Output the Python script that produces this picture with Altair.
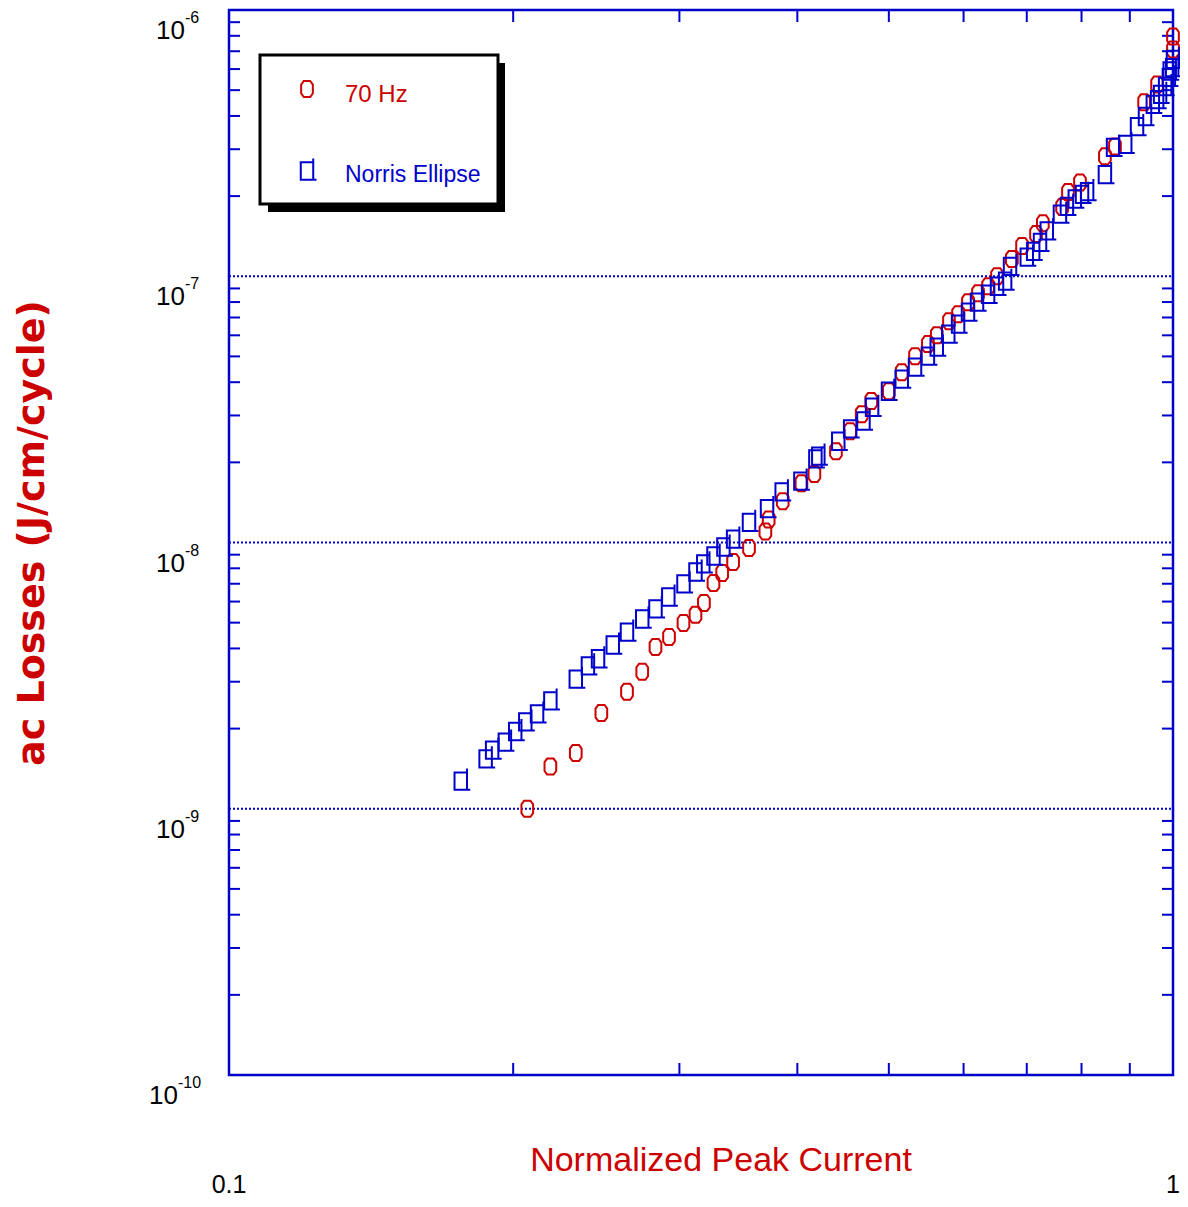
import altair as alt
import pandas as pd

# ---- data ----
red_x = [0.207, 0.219, 0.233, 0.248, 0.264, 0.274, 0.283, 0.2925, 0.303, 0.312,
         0.3185, 0.326, 0.333, 0.342, 0.3555, 0.370, 0.373, 0.386, 0.404, 0.417,
         0.4395, 0.455, 0.468, 0.479, 0.500, 0.516, 0.533, 0.550, 0.562, 0.579,
         0.592, 0.6065, 0.6215, 0.637, 0.651, 0.675, 0.692, 0.716, 0.728, 0.763,
         0.774, 0.797, 0.847, 0.868, 0.932, 0.962, 1.0, 1.0]
red_y = [1.00e-9, 1.44e-9, 1.62e-9, 2.29e-9, 2.75e-9, 3.27e-9, 4.05e-9, 4.42e-9, 4.99e-9, 5.35e-9,
         5.93e-9, 7.05e-9, 7.68e-9, 8.45e-9, 9.54e-9, 1.10e-8, 1.22e-8, 1.43e-8, 1.67e-8, 1.81e-8,
         2.20e-8, 2.62e-8, 3.03e-8, 3.40e-8, 3.70e-8, 4.36e-8, 5.01e-8, 5.56e-8, 6.00e-8, 6.78e-8,
         7.20e-8, 7.99e-8, 8.63e-8, 9.17e-8, 1.00e-7, 1.16e-7, 1.30e-7, 1.44e-7, 1.58e-7, 1.82e-7,
         2.07e-7, 2.25e-7, 2.82e-7, 3.07e-7, 4.50e-7, 5.25e-7, 7.11e-7, 7.95e-7]

blue_x = [0.176, 0.187, 0.190, 0.196, 0.201, 0.206, 0.212, 0.219, 0.233, 0.240,
          0.246, 0.255, 0.264, 0.274, 0.283, 0.292, 0.303, 0.312, 0.318, 0.326,
          0.334, 0.342, 0.3555, 0.3715, 0.385, 0.403, 0.418, 0.421, 0.442, 0.455,
          0.470, 0.480, 0.499, 0.516, 0.533, 0.550, 0.562, 0.578, 0.592, 0.6065,
          0.620, 0.637, 0.651, 0.664, 0.672, 0.700, 0.711, 0.723, 0.735, 0.759,
          0.772, 0.787, 0.801, 0.811, 0.847, 0.864, 0.890, 0.916, 0.934, 0.952,
          0.962, 0.969, 0.981, 0.990, 0.992, 0.998, 1.0]
blue_y = [1.27e-9, 1.54e-9, 1.66e-9, 1.78e-9, 1.95e-9, 2.12e-9, 2.27e-9, 2.54e-9, 3.07e-9, 3.44e-9,
          3.66e-9, 4.12e-9, 4.61e-9, 5.16e-9, 5.63e-9, 6.24e-9, 6.99e-9, 7.75e-9, 8.31e-9, 8.90e-9,
          9.62e-9, 1.03e-8, 1.19e-8, 1.34e-8, 1.55e-8, 1.70e-8, 2.06e-8, 2.11e-8, 2.40e-8, 2.67e-8,
          2.86e-8, 3.22e-8, 3.70e-8, 4.11e-8, 4.56e-8, 5.01e-8, 5.42e-8, 6.06e-8, 6.61e-8, 7.33e-8,
          7.99e-8, 8.56e-8, 9.17e-8, 9.58e-8, 1.09e-7, 1.18e-7, 1.24e-7, 1.34e-7, 1.48e-7, 1.71e-7,
          1.83e-7, 1.95e-7, 2.03e-7, 2.08e-7, 2.41e-7, 3.05e-7, 3.13e-7, 3.65e-7, 3.98e-7, 4.42e-7,
          4.61e-7, 4.82e-7, 5.16e-7, 5.58e-7, 5.90e-7, 6.08e-7, 6.52e-7]

series_names = ["70 Hz", "Norris Ellipse"]
x_title = "Normalized Peak Current"
y_title = "ac Losses (J/cm/cycle)"
x_tick_labels = ["0.1", "1"]
x_label_values = [0.1, 1.0]
y_label_exps = [-6, -7, -8, -9, -10]
x_minor = [0.2, 0.3, 0.4, 0.5, 0.6, 0.7, 0.8, 0.9]
y_minor = [k * 10.0 ** e for e in [-10, -9, -8, -7] for k in range(2, 10)]
y_grid = [1e-9, 1e-8, 1e-7]

# ---- styling ----
W, H = 944, 1065
RED = "#cc0000"
BLUE = "#0000cc"
SANS = "Liberation Sans, Arial, sans-serif"
RED_SHAPE = "M-0.4,-1L0.4,-1L0.73,-0.55L0.73,0.55L0.4,1L-0.4,1L-0.73,0.55L-0.73,-0.55Z"
BLUE_SHAPE = "M-0.72,-1L0.72,-1L0.72,1L-0.72,1Z M0.72,-1L0.72,-1.45 M0.72,1L1.1,1"

xs = alt.Scale(type="log", domain=[0.1, 1.0], nice=False)
ys = alt.Scale(type="log", domain=[1e-10, 1e-6], nice=False)

red_df = pd.DataFrame({"x": red_x, "y": red_y})
blue_df = pd.DataFrame({"x": blue_x, "y": blue_y})
xm_df = pd.DataFrame({"v": x_minor})
ym_df = pd.DataFrame({"v": y_minor})
grid_df = pd.DataFrame({"v": y_grid})
xl_df = pd.DataFrame({"v": x_label_values, "t": x_tick_labels})
yl_df = pd.DataFrame({"e": y_label_exps})

grid = alt.Chart(grid_df).mark_rule(color=BLUE, strokeWidth=2, strokeDash=[2, 2]).encode(
    y=alt.Y("v:Q", scale=ys, axis=None), x=alt.value(0), x2=alt.value(W))

tick_style = dict(color=BLUE, strokeWidth=2)
xt_bottom = alt.Chart(xm_df).mark_rule(**tick_style).encode(
    x=alt.X("v:Q", scale=xs, axis=None), y=alt.value(H), y2=alt.value(H - 12))
xt_top = alt.Chart(xm_df).mark_rule(**tick_style).encode(
    x=alt.X("v:Q", scale=xs, axis=None), y=alt.value(0), y2=alt.value(12))
yt_left = alt.Chart(ym_df).mark_rule(**tick_style).encode(
    y=alt.Y("v:Q", scale=ys, axis=None), x=alt.value(0), x2=alt.value(11))
yt_right = alt.Chart(ym_df).mark_rule(**tick_style).encode(
    y=alt.Y("v:Q", scale=ys, axis=None), x=alt.value(W), x2=alt.value(W - 11))

red_pts = alt.Chart(red_df).mark_point(shape=RED_SHAPE, size=256, filled=False,
                                       stroke=RED, strokeWidth=2, opacity=1).encode(
    x=alt.X("x:Q", scale=xs, axis=None), y=alt.Y("y:Q", scale=ys, axis=None))
blue_pts = alt.Chart(blue_df).mark_point(shape=BLUE_SHAPE, size=300, filled=False,
                                         stroke=BLUE, strokeWidth=2, opacity=1).encode(
    x=alt.X("x:Q", scale=xs, axis=None), y=alt.Y("y:Q", scale=ys, axis=None))

# y tick labels 10^e
ylab_base = alt.Chart(yl_df).transform_calculate(
    val="pow(10, datum.e)", bx="datum.e <= -10 ? -51 : -44", t="'10'").mark_text(
    align="right", baseline="alphabetic", dy=29, font=SANS, fontSize=26, color="black").encode(
    y=alt.Y("val:Q", scale=ys, axis=None), x=alt.X("bx:Q", scale=None), text="t:N")
ylab_sup = alt.Chart(yl_df).transform_calculate(
    val="pow(10, datum.e)", bx="datum.e <= -10 ? -51 : -44", t="'' + datum.e").mark_text(
    align="left", baseline="alphabetic", dy=13, font=SANS, fontSize=16, color="black").encode(
    y=alt.Y("val:Q", scale=ys, axis=None), x=alt.X("bx:Q", scale=None), text="t:N")

xlab = alt.Chart(xl_df).mark_text(align="center", baseline="alphabetic", font=SANS,
                                  fontSize=25, color="black").encode(
    x=alt.X("v:Q", scale=xs, axis=None), y=alt.value(1183), text="t:N")

xtitle = alt.Chart(pd.DataFrame({"t": [x_title]})).mark_text(
    align="center", baseline="alphabetic", font=SANS, fontSize=34, color=RED).encode(
    x=alt.value(492), y=alt.value(1161), text="t:N")
ytitle = alt.Chart(pd.DataFrame({"t": [y_title]})).mark_text(
    align="center", baseline="middle", angle=270, font="DejaVu Sans", fontWeight="bold",
    fontSize=38, color=RED).encode(
    x=alt.value(-196), y=alt.value(523), text="t:N")

# legend box
one = pd.DataFrame({"a": [0]})
shadow = alt.Chart(one).mark_rect(color="black").encode(
    x=alt.value(39), x2=alt.value(276), y=alt.value(53), y2=alt.value(202))
box = alt.Chart(one).mark_rect(fill="white", stroke="black", strokeWidth=3).encode(
    x=alt.value(31), x2=alt.value(269), y=alt.value(45), y2=alt.value(194))
leg_red = alt.Chart(one).mark_point(shape=RED_SHAPE, size=256, filled=False, stroke=RED,
                                    strokeWidth=2, opacity=1).encode(x=alt.value(78), y=alt.value(79))
leg_blue = alt.Chart(one).mark_point(shape=BLUE_SHAPE, size=300, filled=False, stroke=BLUE,
                                     strokeWidth=2, opacity=1).encode(x=alt.value(78), y=alt.value(161))
leg_t1 = alt.Chart(pd.DataFrame({"t": [series_names[0]]})).mark_text(
    align="left", baseline="alphabetic", font=SANS, fontSize=24, color=RED).encode(
    x=alt.value(116), y=alt.value(92), text="t:N")
leg_t2 = alt.Chart(pd.DataFrame({"t": [series_names[1]]})).mark_text(
    align="left", baseline="alphabetic", font=SANS, fontSize=23, color=BLUE).encode(
    x=alt.value(116), y=alt.value(172), text="t:N")

chart = alt.layer(
    grid, xt_bottom, xt_top, yt_left, yt_right,
    red_pts, blue_pts,
    ylab_base, ylab_sup, xlab, xtitle, ytitle,
    shadow, box, leg_red, leg_blue, leg_t1, leg_t2,
).properties(
    width=W, height=H,
    autosize=alt.AutoSizeParams(type="none"),
    padding={"left": 221, "top": 2, "right": 7, "bottom": 124},
).configure_view(stroke=BLUE, strokeWidth=2.5)

chart.save("out.html", embed_options={"renderer": "svg", "actions": False})
